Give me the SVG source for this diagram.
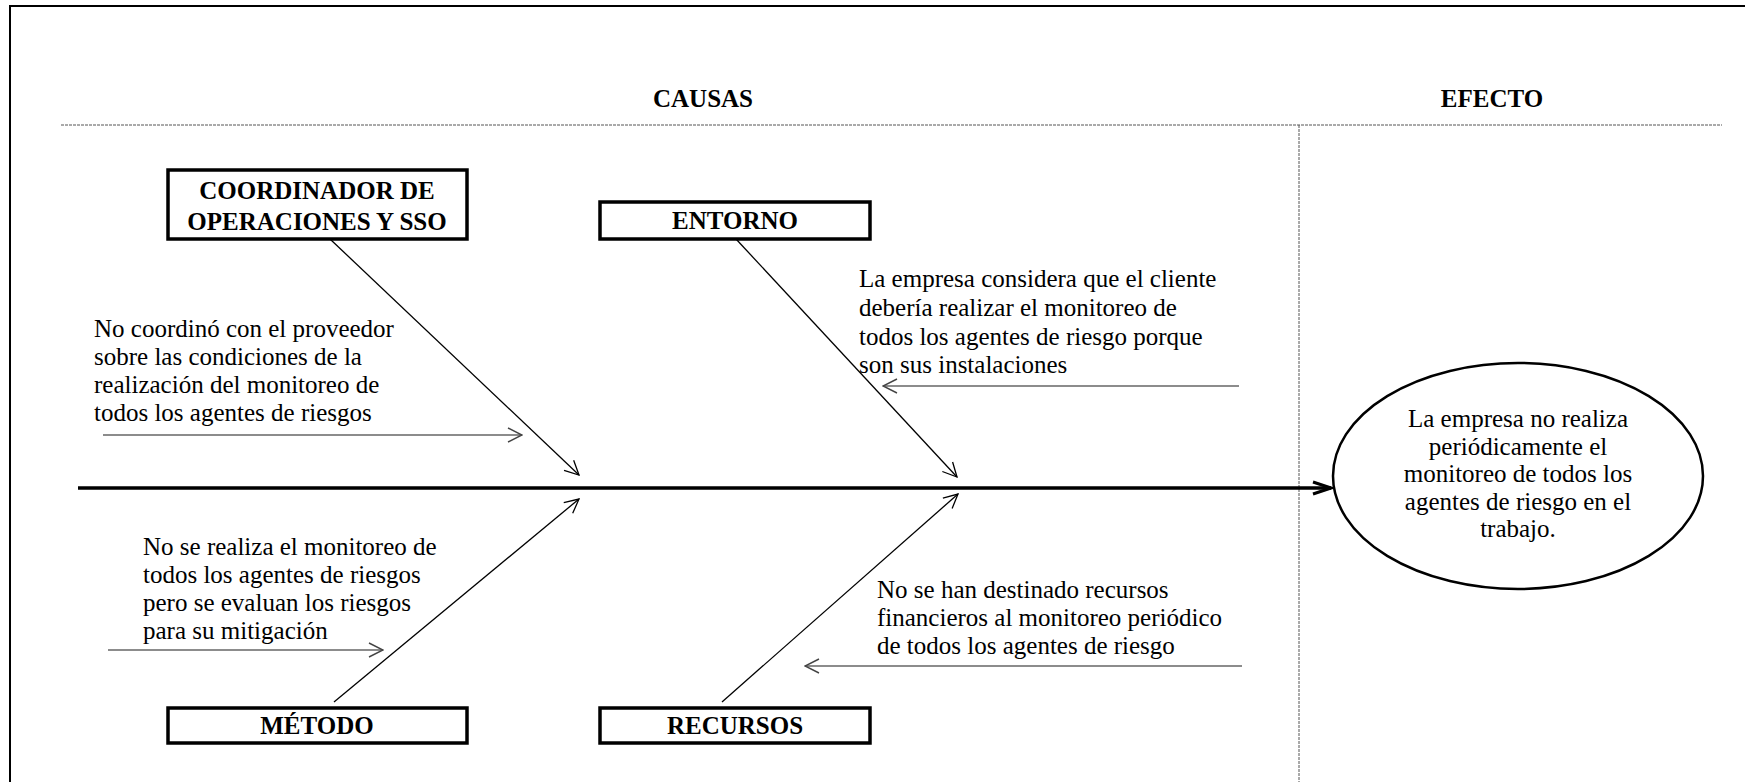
<svg xmlns="http://www.w3.org/2000/svg" width="1745" height="782" viewBox="0 0 1745 782">
<style>
.t{font-family:"Liberation Serif","Times New Roman",serif;font-size:25px;fill:#000}
.h{font-family:"Liberation Serif","Times New Roman",serif;font-size:25px;font-weight:bold;fill:#000;text-anchor:middle}
.c{text-anchor:middle}
.box{fill:#fff;stroke:#000;stroke-width:3.5}
.bone{stroke:#000;stroke-width:1.3;fill:none}
.sub{stroke:#666;stroke-width:1.5;fill:none}
.dash{stroke:#555;stroke-width:1;stroke-dasharray:3 1;fill:none}
</style>
<defs>
<marker id="ah" markerUnits="userSpaceOnUse" viewBox="0 0 16 16" markerWidth="16" markerHeight="16" refX="15" refY="8" orient="auto">
<path d="M1,1 L15,8 L1,15" fill="none" stroke="#000" stroke-width="1.3"/>
</marker>
<marker id="ahg" markerUnits="userSpaceOnUse" viewBox="0 0 16 16" markerWidth="16" markerHeight="16" refX="15" refY="8" orient="auto">
<path d="M1,1 L15,8 L1,15" fill="none" stroke="#444" stroke-width="1.4"/>
</marker>
<marker id="ahs" markerUnits="userSpaceOnUse" viewBox="0 0 22 16" markerWidth="22" markerHeight="16" refX="20" refY="8" orient="auto">
<path d="M2,2 L20,8 L2,14" fill="none" stroke="#000" stroke-width="3"/>
</marker>
</defs>
<rect width="1745" height="782" fill="#fff"/>
<g id="frame">
<line x1="9" y1="6" x2="1745" y2="6" stroke="#000" stroke-width="2"/>
<line x1="10" y1="5" x2="10" y2="782" stroke="#000" stroke-width="2"/>
<line class="dash" x1="61" y1="125" x2="1722" y2="125"/>
<line class="dash" x1="1299" y1="125" x2="1299" y2="782"/>
<text class="h" x="703" y="107">CAUSAS</text>
<text class="h" x="1492" y="107">EFECTO</text>
</g>
<g id="connectors">
<line x1="78" y1="488" x2="1331" y2="488" stroke="#000" stroke-width="3.5" marker-end="url(#ahs)"/>
<line class="bone" x1="330" y1="239" x2="579" y2="475" marker-end="url(#ah)"/>
<line class="bone" x1="736" y1="239" x2="957" y2="477" marker-end="url(#ah)"/>
<line class="bone" x1="334" y1="702" x2="579" y2="499" marker-end="url(#ah)"/>
<line class="bone" x1="722" y1="702" x2="958" y2="494" marker-end="url(#ah)"/>
<line class="sub" x1="103" y1="435" x2="522" y2="435" marker-end="url(#ahg)"/>
<line class="sub" x1="1239" y1="386" x2="883" y2="386" marker-end="url(#ahg)"/>
<line class="sub" x1="108" y1="650" x2="383" y2="650" marker-end="url(#ahg)"/>
<line class="sub" x1="1242" y1="666" x2="805" y2="666" marker-end="url(#ahg)"/>
</g>
<g id="coordinador">
<rect class="box" x="168" y="170" width="299" height="69"/>
<text class="h" x="317" y="199">COORDINADOR DE</text>
<text class="h" x="317" y="230">OPERACIONES Y SSO</text>
</g>
<g id="entorno">
<rect class="box" x="600" y="202" width="270" height="37"/>
<text class="h" x="735" y="229">ENTORNO</text>
</g>
<g id="metodo">
<rect class="box" x="168" y="708" width="299" height="35"/>
<text class="h" x="317" y="734">MÉTODO</text>
</g>
<g id="recursos">
<rect class="box" x="600" y="708" width="270" height="35"/>
<text class="h" x="735" y="734">RECURSOS</text>
</g>
<g id="cause1">
<text class="t" x="94" y="337">No coordinó con el proveedor</text>
<text class="t" x="94" y="365">sobre las condiciones de la</text>
<text class="t" x="94" y="393">realización del monitoreo de</text>
<text class="t" x="94" y="421">todos los agentes de riesgos</text>
</g>
<g id="cause2">
<text class="t" x="859" y="287">La empresa considera que el cliente</text>
<text class="t" x="859" y="316">debería realizar el monitoreo de</text>
<text class="t" x="859" y="345">todos los agentes de riesgo porque</text>
<text class="t" x="859" y="373">son sus instalaciones</text>
</g>
<g id="cause3">
<text class="t" x="143" y="555">No se realiza el monitoreo de</text>
<text class="t" x="143" y="583">todos los agentes de riesgos</text>
<text class="t" x="143" y="611">pero se evaluan los riesgos</text>
<text class="t" x="143" y="639">para su mitigación</text>
</g>
<g id="cause4">
<text class="t" x="877" y="598">No se han destinado recursos</text>
<text class="t" x="877" y="626">financieros al monitoreo periódico</text>
<text class="t" x="877" y="654">de todos los agentes de riesgo</text>
</g>
<g id="efecto">
<ellipse cx="1518" cy="476" rx="185" ry="113" fill="#fff" stroke="#000" stroke-width="2.5"/>
<text class="t c" x="1518" y="427">La empresa no realiza</text>
<text class="t c" x="1518" y="455">periódicamente el</text>
<text class="t c" x="1518" y="482">monitoreo de todos los</text>
<text class="t c" x="1518" y="510">agentes de riesgo en el</text>
<text class="t c" x="1518" y="537">trabajo.</text>
</g>
</svg>
